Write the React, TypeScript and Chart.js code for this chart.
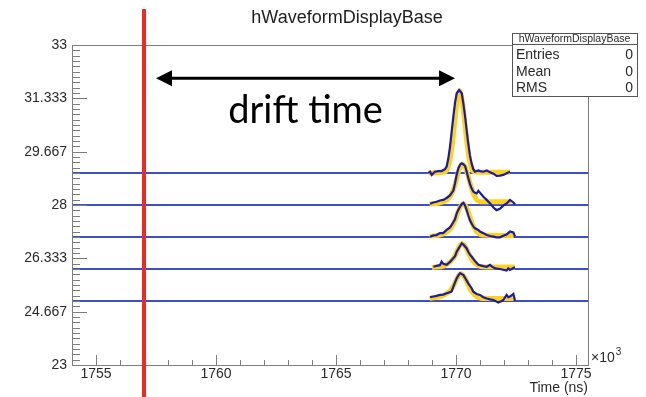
import React, { useEffect, useRef } from "react";
import { Chart, registerables } from "chart.js";

Chart.register(...registerables);

// ---- axis ranges & labels ----
const xRange = [1754, 1775.5];
const yRange = [23, 33];
const xMajorTicks = [1755, 1760, 1765, 1770, 1775];
const xTickLabels = ["1755", "1760", "1765", "1770", "1775"];
const yTickLabels = ["23", "24.667", "26.333", "28", "29.667", "31.333", "33"];
const chartTitle = "hWaveformDisplayBase";
const xAxisTitle = "Time (ns)";
const statNames = ["Entries", "Mean", "RMS"];
const statValues = ["0", "0", "0"];

// ---- annotations ----
const triggerTime = 1757.0;
const arrowStart = 1757.5;
const arrowEnd = 1769.96;
const arrowLevel = 31.96;
const annotationText = "drift time";

// ---- baselines of the five waveforms ----
const baselineLevels = [29, 28, 27, 26, 25];

// ---- measured waveforms ----
const wave1Time = [1768.85, 1768.92, 1768.99, 1769.12, 1769.26, 1769.4, 1769.54, 1769.61, 1769.68, 1769.75, 1769.82, 1769.89, 1769.96, 1770.03, 1770.13, 1770.24, 1770.31, 1770.38, 1770.45, 1770.51, 1770.58, 1770.65, 1770.72, 1770.79, 1770.93, 1771.0, 1771.14, 1771.28, 1771.42, 1771.56, 1771.69, 1771.83, 1771.97, 1772.11, 1772.25];
const wave1Vals = [29.0, 29.04, 28.94, 29.04, 29.06, 29.06, 29.12, 29.2, 29.45, 29.82, 30.3, 30.76, 31.2, 31.49, 31.59, 31.49, 31.15, 30.76, 30.3, 29.93, 29.55, 29.3, 29.12, 29.04, 29.08, 29.06, 29.04, 29.08, 29.02, 28.98, 28.91, 28.92, 28.94, 28.99, 29.04];

const wave2Time = [1768.92, 1769.06, 1769.19, 1769.33, 1769.47, 1769.61, 1769.75, 1769.89, 1769.96, 1770.03, 1770.1, 1770.17, 1770.24, 1770.31, 1770.38, 1770.44, 1770.51, 1770.58, 1770.65, 1770.72, 1770.79, 1770.86, 1770.93, 1771.0, 1771.14, 1771.28, 1771.42, 1771.56, 1771.69, 1771.83, 1771.97, 1772.11, 1772.25, 1772.39, 1772.46];
const wave2Vals = [28.04, 28.08, 28.1, 28.14, 28.16, 28.22, 28.3, 28.45, 28.68, 28.95, 29.15, 29.26, 29.3, 29.27, 29.22, 29.05, 28.85, 28.66, 28.52, 28.42, 28.38, 28.36, 28.44, 28.38, 28.26, 28.16, 28.05, 27.92, 27.84, 27.88, 27.98, 28.05, 28.16, 28.08, 28.02];

const wave3Time = [1768.92, 1769.06, 1769.19, 1769.33, 1769.47, 1769.61, 1769.75, 1769.82, 1769.96, 1770.03, 1770.1, 1770.17, 1770.24, 1770.31, 1770.38, 1770.44, 1770.51, 1770.58, 1770.65, 1770.72, 1770.79, 1770.93, 1771.0, 1771.14, 1771.28, 1771.42, 1771.56, 1771.69, 1771.83, 1771.97, 1772.11, 1772.25, 1772.39, 1772.46];
const wave3Vals = [27.01, 27.05, 27.06, 27.12, 27.12, 27.22, 27.3, 27.38, 27.55, 27.74, 27.85, 27.95, 28.03, 28.07, 27.98, 27.85, 27.68, 27.53, 27.42, 27.33, 27.27, 27.22, 27.17, 27.12, 27.06, 27.03, 27.01, 26.99, 26.99, 27.04, 27.08, 27.17, 27.14, 27.02];

const wave4Time = [1769.06, 1769.19, 1769.33, 1769.4, 1769.47, 1769.61, 1769.75, 1769.82, 1769.96, 1770.03, 1770.1, 1770.17, 1770.24, 1770.31, 1770.44, 1770.51, 1770.58, 1770.65, 1770.79, 1770.93, 1771.14, 1771.28, 1771.42, 1771.49, 1771.63, 1771.83, 1772.11, 1772.18, 1772.25, 1772.39, 1772.46];
const wave4Vals = [26.07, 26.1, 26.12, 26.23, 26.16, 26.13, 26.22, 26.28, 26.4, 26.54, 26.63, 26.72, 26.8, 26.76, 26.65, 26.54, 26.45, 26.39, 26.25, 26.13, 26.09, 26.07, 26.13, 26.08, 26.02, 26.0, 25.95, 26.02, 25.97, 26.03, 26.05];

const wave5Time = [1768.92, 1769.06, 1769.19, 1769.33, 1769.47, 1769.61, 1769.68, 1769.82, 1769.89, 1769.96, 1770.03, 1770.1, 1770.17, 1770.24, 1770.31, 1770.38, 1770.51, 1770.65, 1770.72, 1770.86, 1771.0, 1771.14, 1771.28, 1771.42, 1771.56, 1771.69, 1771.76, 1771.9, 1771.97, 1772.11, 1772.18, 1772.25, 1772.39, 1772.46];
const wave5Vals = [25.12, 25.14, 25.16, 25.19, 25.2, 25.24, 25.26, 25.3, 25.45, 25.58, 25.71, 25.8, 25.87, 25.84, 25.81, 25.72, 25.55, 25.4, 25.29, 25.22, 25.19, 25.12, 25.08, 25.05, 25.03, 24.98, 24.95, 25.0, 25.03, 25.19, 25.12, 25.14, 25.22, 25.01];

// ---- fitted pulses ----
const fit1Time = [1768.85, 1769.55, 1769.65, 1769.75, 1769.85, 1769.95, 1770.05, 1770.15, 1770.25, 1770.35, 1770.45, 1770.55, 1770.65, 1770.75, 1771.0, 1772.25];
const fit1Vals = [29.0, 29.04, 29.15, 29.42, 29.92, 30.63, 31.27, 31.57, 31.3, 30.68, 29.98, 29.45, 29.15, 29.04, 29.02, 29.02];
const fit2Time = [1768.9, 1769.3, 1769.6, 1769.8, 1769.95, 1770.05, 1770.15, 1770.26, 1770.4, 1770.5, 1770.6, 1770.7, 1770.85, 1771.0, 1772.3];
const fit2Vals = [28.03, 28.06, 28.15, 28.32, 28.6, 28.88, 29.15, 29.28, 29.15, 28.92, 28.65, 28.4, 28.18, 28.1, 28.1];
const fit3Time = [1768.9, 1769.4, 1769.7, 1769.9, 1770.05, 1770.15, 1770.3, 1770.45, 1770.6, 1770.75, 1770.9, 1771.1, 1772.4];
const fit3Vals = [27.02, 27.08, 27.2, 27.42, 27.7, 27.9, 28.05, 27.9, 27.58, 27.3, 27.14, 27.06, 27.05];
const fit4Time = [1769.0, 1769.5, 1769.8, 1769.95, 1770.1, 1770.25, 1770.4, 1770.55, 1770.7, 1770.9, 1771.1, 1772.45];
const fit4Vals = [26.05, 26.1, 26.25, 26.4, 26.65, 26.8, 26.68, 26.45, 26.25, 26.12, 26.07, 26.06];
const fit5Time = [1768.9, 1769.4, 1769.7, 1769.9, 1770.05, 1770.2, 1770.35, 1770.5, 1770.65, 1770.85, 1771.05, 1772.4];
const fit5Vals = [25.08, 25.15, 25.28, 25.48, 25.72, 25.85, 25.75, 25.52, 25.3, 25.15, 25.08, 25.08];

const waveTimes = [wave1Time, wave2Time, wave3Time, wave4Time, wave5Time];
const waveVals = [wave1Vals, wave2Vals, wave3Vals, wave4Vals, wave5Vals];
const fitTimes = [fit1Time, fit2Time, fit3Time, fit4Time, fit5Time];
const fitVals = [fit1Vals, fit2Vals, fit3Vals, fit4Vals, fit5Vals];

const zip = (xs: number[], ys: number[]) => xs.map((x, i) => ({ x, y: ys[i] }));

const ROOT_FONT = '"Liberation Sans", Arial, sans-serif';
const FRAME = "#7d7d7d";
const TEXT = "#2a2a2a";

const overlayPlugin = {
  id: "rootOverlay",
  afterDatasetsDraw(chart: any) {
    const { ctx, chartArea: a, scales } = chart;
    const xs = scales.x;
    const ys = scales.y;
    ctx.save();

    // frame
    ctx.strokeStyle = FRAME;
    ctx.lineWidth = 1;
    ctx.strokeRect(Math.round(a.left) + 0.5, Math.round(a.top) + 0.5, Math.round(a.right - a.left), Math.round(a.bottom - a.top));

    // x ticks
    ctx.beginPath();
    for (let v = Math.ceil(xRange[0]); v <= xRange[1]; v++) {
      const px = Math.round(xs.getPixelForValue(v)) + 0.5;
      const major = xMajorTicks.includes(v);
      ctx.moveTo(px, a.bottom);
      ctx.lineTo(px, a.bottom - (major ? 10 : 5));
    }
    // y ticks
    const yMajorCount = yTickLabels.length - 1;
    const yStep = (yRange[1] - yRange[0]) / yMajorCount;
    for (let i = 0; i <= yMajorCount * 10; i++) {
      const v = yRange[0] + (i * yStep) / 10;
      const py = Math.round(ys.getPixelForValue(v)) + 0.5;
      const major = i % 10 === 0;
      ctx.moveTo(a.left, py);
      ctx.lineTo(a.left + (major ? 15 : 8), py);
    }
    ctx.stroke();

    // tick labels
    ctx.fillStyle = TEXT;
    ctx.font = `14px ${ROOT_FONT}`;
    ctx.textAlign = "center";
    ctx.textBaseline = "middle";
    xMajorTicks.forEach((v, i) => {
      ctx.fillText(xTickLabels[i], xs.getPixelForValue(v), a.bottom + 9);
    });
    ctx.textAlign = "right";
    yTickLabels.forEach((lab, i) => {
      const v = yRange[0] + i * yStep;
      ctx.fillText(lab, a.left - 5, ys.getPixelForValue(v));
    });

    // x10^3 and axis title
    ctx.textAlign = "left";
    ctx.font = `14px ${ROOT_FONT}`;
    ctx.fillText("\u00d710", a.right + 3, a.bottom - 7);
    const w = ctx.measureText("\u00d710").width;
    ctx.font = `10px ${ROOT_FONT}`;
    ctx.fillText("3", a.right + 3 + w + 1, a.bottom - 13);
    ctx.font = `14px ${ROOT_FONT}`;
    ctx.textAlign = "right";
    ctx.fillText(xAxisTitle, a.right, a.bottom + 23);

    // title
    ctx.textAlign = "center";
    ctx.font = `18px ${ROOT_FONT}`;
    ctx.fillStyle = "#1e1e1e";
    ctx.fillText(chartTitle, 347, 18);

    // stats box
    const bx = 512, by = 33, bw = 125, bh = 63;
    ctx.fillStyle = "#ffffff";
    ctx.fillRect(bx, by, bw, bh);
    ctx.strokeStyle = "#555555";
    ctx.strokeRect(bx + 0.5, by + 0.5, bw, bh);
    ctx.beginPath();
    ctx.moveTo(bx, by + 11.5);
    ctx.lineTo(bx + bw, by + 11.5);
    ctx.stroke();
    ctx.fillStyle = TEXT;
    ctx.font = `10.5px ${ROOT_FONT}`;
    ctx.textAlign = "center";
    ctx.fillText(chartTitle, bx + bw / 2, by + 6);
    ctx.font = `14px ${ROOT_FONT}`;
    statNames.forEach((n, i) => {
      const ty = by + 22 + i * 16.7;
      ctx.textAlign = "left";
      ctx.fillText(n, bx + 4, ty);
      ctx.textAlign = "right";
      ctx.fillText(statValues[i], bx + bw - 4, ty);
    });

    // arrow
    const ax1 = xs.getPixelForValue(arrowStart);
    const ax2 = xs.getPixelForValue(arrowEnd);
    const ay = ys.getPixelForValue(arrowLevel);
    ctx.strokeStyle = "#000";
    ctx.fillStyle = "#000";
    ctx.lineWidth = 3;
    ctx.beginPath();
    ctx.moveTo(ax1 + 10, ay);
    ctx.lineTo(ax2 - 10, ay);
    ctx.stroke();
    ctx.beginPath();
    ctx.moveTo(ax1, ay);
    ctx.lineTo(ax1 + 16, ay - 8);
    ctx.lineTo(ax1 + 16, ay + 8);
    ctx.closePath();
    ctx.fill();
    ctx.beginPath();
    ctx.moveTo(ax2, ay);
    ctx.lineTo(ax2 - 16, ay - 8);
    ctx.lineTo(ax2 - 16, ay + 8);
    ctx.closePath();
    ctx.fill();

    // drift time label
    ctx.font = `38px Lato, "Open Sans", sans-serif`;
    ctx.textAlign = "center";
    ctx.textBaseline = "alphabetic";
    ctx.fillText(annotationText, (ax1 + ax2) / 2, ay + 45);

    // red trigger line
    const rx = xs.getPixelForValue(triggerTime);
    ctx.fillStyle = "#ee2b22";
    ctx.fillRect(rx - 2, 9, 4, chart.height - 9);

    ctx.restore();
  },
};

export default function App() {
  const ref = useRef<HTMLCanvasElement | null>(null);
  useEffect(() => {
    if (!ref.current) return;
    const datasets: any[] = [];
    waveTimes.forEach((t, i) => {
      datasets.push({
        data: zip(t, waveVals[i]),
        borderColor: "#1b1ba6",
        borderWidth: 2.2,
        pointRadius: 0,
        tension: 0,
        order: 0,
      });
    });
    fitTimes.forEach((t, i) => {
      datasets.push({
        data: zip(t, fitVals[i]),
        borderColor: "#ffd21a",
        borderWidth: 5,
        pointRadius: 0,
        tension: 0.35,
        cubicInterpolationMode: "monotone",
        order: 1,
      });
    });
    baselineLevels.forEach((lv) => {
      datasets.push({
        data: [
          { x: xRange[0], y: lv },
          { x: xRange[1], y: lv },
        ],
        borderColor: "#3d4fc4",
        borderWidth: 2,
        pointRadius: 0,
        order: 2,
      });
    });
    const chart = new Chart(ref.current, {
      type: "line",
      data: { datasets },
      options: {
        animation: false,
        responsive: false,
        devicePixelRatio: 1,
        layout: { padding: { left: 72, right: 58, top: 45, bottom: 32 } },
        plugins: { legend: { display: false }, tooltip: { enabled: false }, title: { display: false } },
        scales: {
          x: { type: "linear", min: xRange[0], max: xRange[1], display: false },
          y: { type: "linear", min: yRange[0], max: yRange[1], display: false },
        },
      },
      plugins: [overlayPlugin],
    });
    return () => chart.destroy();
  }, []);
  return (
    <div style={{ position: "absolute", left: 0, top: 0, width: 646, height: 397, background: "#fff" }}>
      <canvas ref={ref} width={646} height={397} style={{ display: "block" }} />
    </div>
  );
}
